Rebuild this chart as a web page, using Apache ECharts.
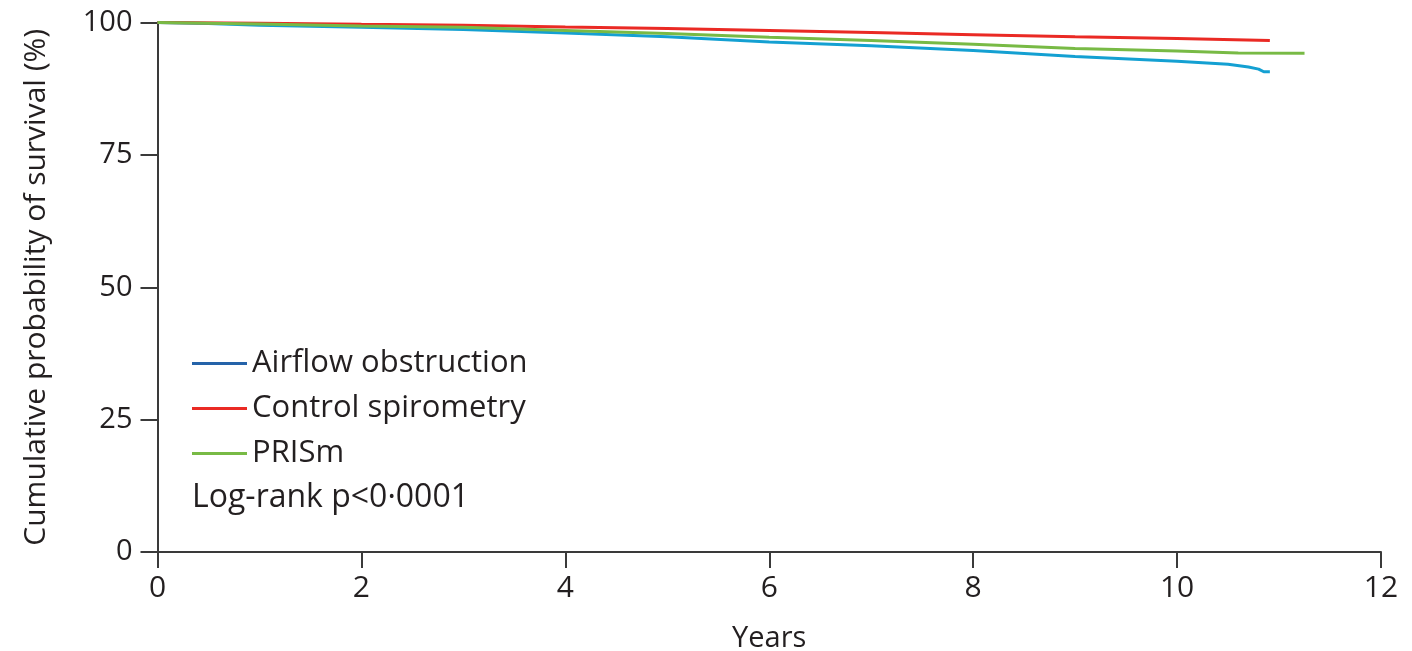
<!DOCTYPE html>
<html>
<head>
<meta charset="utf-8">
<script src="https://cdn.jsdelivr.net/npm/echarts@6/dist/echarts.min.js"></script>
<style>
html,body{margin:0;padding:0;background:#fff;}
#c{width:1412px;height:651px;}
</style>
</head>
<body>
<div id="c"></div>
<script>
const seriesNames = ['Airflow obstruction', 'Control spirometry', 'PRISm'];
const xTicks = [0, 2, 4, 6, 8, 10, 12];
const yTicks = [0, 25, 50, 75, 100];

const airflowYears  = [0, 0.5, 1, 2, 3, 4, 5, 6, 7, 8, 9, 10, 10.5, 10.7, 10.8, 10.85, 10.91];
const airflowValues = [100, 99.8, 99.5, 99.1, 98.7, 98.0, 97.3, 96.3, 95.6, 94.7, 93.6, 92.7, 92.1, 91.6, 91.2, 90.7, 90.7];

const controlYears  = [0, 1, 2, 3, 4, 5, 6, 7, 8, 9, 10, 10.91];
const controlValues = [100, 99.85, 99.65, 99.5, 99.15, 98.85, 98.5, 98.1, 97.7, 97.3, 97.0, 96.6];

const prismYears  = [0, 1, 2, 3, 4, 5, 6, 7, 8, 9, 10, 10.6, 11.25];
const prismValues = [100, 99.7, 99.35, 99.1, 98.5, 97.9, 97.2, 96.6, 95.9, 95.1, 94.6, 94.25, 94.2];

const pairs = (xs, ys) => xs.map((x, i) => [x, ys[i]]);

const lineColors = ['#14a0d2', '#ea2a24', '#78ba45'];
const legendColors = ['#2563a9', '#ea2a24', '#78ba45'];
const textColor = '#231f20';
const axisColor = '#3a3a3a';
const font = 'Open Sans';

const chart = echarts.init(document.getElementById('c'), null, {renderer: 'canvas'});
chart.setOption({
  animation: false,
  backgroundColor: '#fff',
  grid: {left: 157.5, right: 31, top: 22.5, bottom: 99, containLabel: false, outerBoundsMode: 'none'},
  legend: {
    orient: 'vertical',
    left: 187,
    top: 343,
    itemWidth: 55,
    itemHeight: 3,
    itemGap: 14,
    icon: 'rect',
    textStyle: {fontFamily: font, fontSize: 31, color: textColor, padding: [0, 0, 0, 0]},
    data: seriesNames.map((n, i) => ({name: n, itemStyle: {color: legendColors[i]}}))
  },
  title: {
    text: 'Log-rank p<0·0001',
    left: 187,
    top: 477,
    textStyle: {fontFamily: font, fontSize: 32, fontWeight: 'normal', color: textColor}
  },
  xAxis: {
    type: 'value', min: 0, max: 12, interval: 2,
    name: 'Years', nameLocation: 'middle', nameGap: 72,
    nameTextStyle: {fontFamily: font, fontSize: 29, color: textColor},
    axisLine: {show: true, lineStyle: {color: axisColor, width: 2}},
    axisTick: {show: true, length: 16, lineStyle: {color: axisColor, width: 2}},
    axisLabel: {fontFamily: font, fontSize: 30, color: textColor, margin: 21},
    splitLine: {show: false}
  },
  yAxis: {
    type: 'value', min: 0, max: 100, interval: 25,
    name: 'Cumulative probability of survival (%)', nameLocation: 'middle', nameGap: 106,
    nameTextStyle: {fontFamily: font, fontSize: 30, color: textColor},
    axisLine: {show: true, lineStyle: {color: axisColor, width: 2}},
    axisTick: {show: true, length: 17, lineStyle: {color: axisColor, width: 2}},
    axisLabel: {fontFamily: font, fontSize: 29, color: textColor, margin: 25},
    splitLine: {show: false}
  },
  series: [
    {name: seriesNames[0], type: 'line', data: pairs(airflowYears, airflowValues), symbol: 'none', lineStyle: {width: 3, color: lineColors[0]}, itemStyle: {color: lineColors[0]}, z: 3},
    {name: seriesNames[1], type: 'line', data: pairs(controlYears, controlValues), symbol: 'none', lineStyle: {width: 3, color: lineColors[1]}, itemStyle: {color: lineColors[1]}, z: 4},
    {name: seriesNames[2], type: 'line', data: pairs(prismYears, prismValues), symbol: 'none', lineStyle: {width: 3, color: lineColors[2]}, itemStyle: {color: lineColors[2]}, z: 5}
  ]
});
</script>
</body>
</html>
